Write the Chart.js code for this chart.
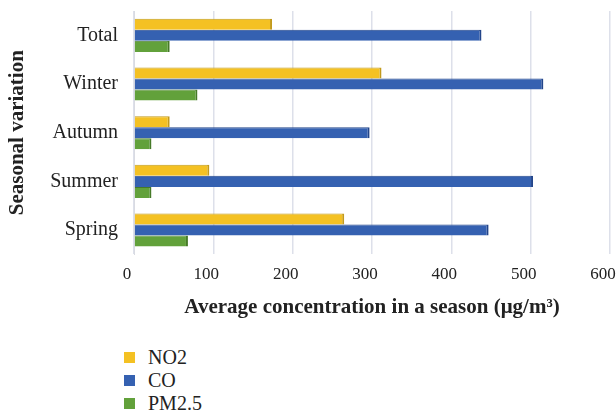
<!DOCTYPE html>
<html>
<head>
<meta charset="utf-8">
<script src="https://cdn.jsdelivr.net/npm/chart.js@4"></script>
<style>
  html, body { margin: 0; padding: 0; background: #fff; }
  #wrap { position: relative; width: 616px; height: 411px; }
  #chartBox { position: absolute; left: 0; top: 0; width: 616px; height: 320px; }
  #legend { position: absolute; left: 124px; top: 346px; list-style: none; margin: 0; padding: 0;
    font-family: "Liberation Serif", serif; font-size: 20px; color: #222; }
  #legend li { height: 23px; line-height: 23px; display: flex; align-items: center; }
  #legend span.box { display: inline-block; width: 11px; height: 11px; margin-right: 13px; }
</style>
</head>
<body>
<div id="wrap">
  <div id="chartBox"><canvas id="chart"></canvas></div>
  <ul id="legend"></ul>
</div>
<script>
const seasons = ["Total", "Winter", "Autumn", "Summer", "Spring"];
const no2 = [174, 312, 45, 95, 265];
const co = [438, 516, 297, 503, 447];
const pm25 = [45, 80, 22, 22, 68];
const xTicks = [0, 100, 200, 300, 400, 500, 600];

const font = "'Liberation Serif', serif";

function makeChart(canvas) {
  return new Chart(canvas, {
    type: "bar",
    data: {
      labels: seasons,
      datasets: [
        { label: "NO2", data: no2, backgroundColor: "#f4c123", borderColor: "#c29a1c" },
        { label: "CO", data: co, backgroundColor: "#3561b1", borderColor: "#23458a" },
        { label: "PM2.5", data: pm25, backgroundColor: "#62a13b", borderColor: "#467a28" },
      ],
    },
    options: {
      indexAxis: "y",
      responsive: true,
      maintainAspectRatio: false,
      animation: false,
      layout: { padding: { top: 11, right: 0, bottom: 0, left: 5 } },
      datasets: {
        bar: { categoryPercentage: 0.68, barPercentage: 1, borderWidth: { top: 1, right: 2, bottom: 0, left: 0 }, borderSkipped: false },
      },
      scales: {
        x: {
          min: 0,
          max: 600,
          afterBuildTicks: (s) => { s.ticks = xTicks.map((v) => ({ value: v })); },
          afterFit: (s) => { s.paddingRight = 6; },
          grid: { color: "#dde0ea", lineWidth: 1.5, drawTicks: false },
          border: { display: false },
          ticks: { color: "#222", font: { family: font, size: 17 }, padding: 10, labelOffset: -7 },
          title: {
            display: true,
            text: "Average concentration in a season (μg/m³)",
            color: "#222",
            font: { family: font, size: 21, weight: "bold" },
            padding: { top: 0, bottom: 0 },
          },
        },
        y: {
          afterFit: (s) => {
            s.width = 129;
            s.paddingTop = 0;
            s.paddingBottom = 0;
          },
          grid: { display: false },
          border: { color: "#d9dbe2" },
          ticks: { color: "#222", font: { family: font, size: 20 }, padding: 8 },
          title: {
            display: true,
            text: "Seasonal variation",
            color: "#222",
            font: { family: font, size: 21, weight: "bold" },
            padding: { top: 0, bottom: 0 },
          },
        },
      },
      plugins: {
        legend: { display: false },
        tooltip: { enabled: false },
      },
    },
  });
}

function renderLegend(chart) {
  const el = document.getElementById("legend");
  el.innerHTML = chart.data.datasets
    .map((d) => `<li><span class="box" style="background:${d.backgroundColor}"></span>${d.label}</li>`)
    .join("");
}

const chart = makeChart(document.getElementById("chart"));
renderLegend(chart);
</script>
</body>
</html>
